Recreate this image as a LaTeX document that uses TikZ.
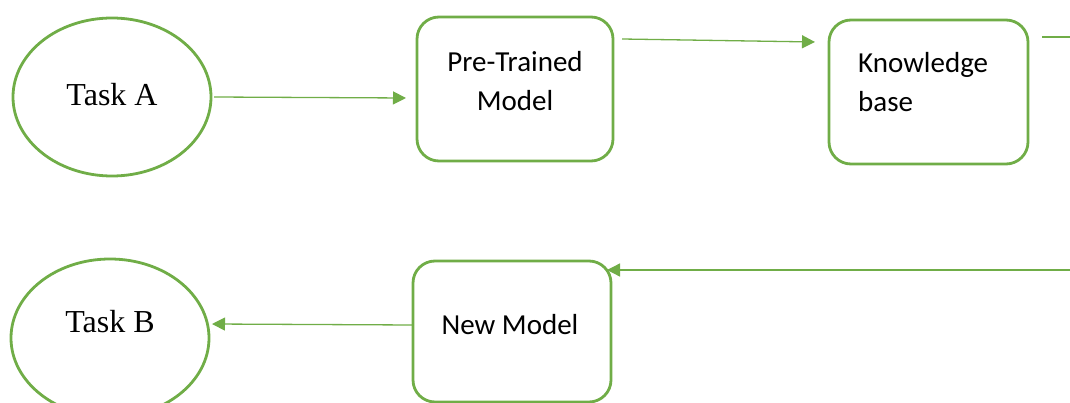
\documentclass[tikz,border=0pt]{standalone}
\usepackage{fontspec}
\setmainfont{Liberation Serif}
\newfontfamily\boxfont{Carlito}
\usetikzlibrary{shapes.geometric,arrows.meta}
\definecolor{leaf}{HTML}{70AD47}
\tikzset{
  taskshape/.style={ellipse, draw=leaf, line width=2.8pt, minimum width=198pt, minimum height=158pt, inner sep=0pt, outer sep=0pt},
  modelbox/.style={rectangle, rounded corners=22pt, draw=leaf, line width=2.8pt, inner sep=0pt, outer sep=0pt},
  tasktext/.style={font=\fontsize{32}{36}\selectfont, inner sep=0pt},
  boxtext/.style={font=\boxfont\fontsize{29}{39}\selectfont, inner sep=0pt},
  flow/.style={draw=leaf, line width=1.3pt, -{Triangle[length=13pt,width=13pt]}},
  plainline/.style={draw=leaf, line width=1.3pt}
}
\begin{document}
\begin{tikzpicture}[x=1pt,y=-1pt]
  \useasboundingbox (0,0) rectangle (1070,403);
  \clip (0,0) rectangle (1070,403);

  % upper row
  \node[taskshape] (ta) at (112,97) {};
  \node[tasktext] (tatext) at (112,95) {Task A};
  \node[modelbox, minimum width=196pt, minimum height=144pt] (pt) at (515,89) {};
  \node[boxtext, align=center] (pttext) at (515,81) {Pre-Trained\\Model};
  \node[modelbox, minimum width=199pt, minimum height=144pt] (kb) at (928.5,92) {};
  \node[boxtext, align=left, anchor=west] (kbtext) at (858,82) {Knowledge\\base};

  % lower row
  \node[taskshape] (tb) at (110,338) {};
  \node[tasktext] (tbtext) at (110,322) {Task B};
  \node[modelbox, minimum width=198pt, minimum height=141pt] (nm) at (512,331.5) {};
  \node[boxtext] (nmtext) at (510,325) {New Model};

  % connectors
  \path[flow] ([xshift=3pt]ta.east) -- ([xshift=-11pt,yshift=-9pt]pt.west);
  \path[flow] ([xshift=9pt,yshift=-22pt]pt.north east) -- ([xshift=-14pt,yshift=-22pt]kb.north west);
  \coordinate (kbout) at (1071,37);
  \path[plainline] ([xshift=14pt,yshift=-17pt]kb.north east) -- (kbout);
  \coordinate (kbin) at (1071,270);
  \path[flow] (kbin) -- ([xshift=-4pt,yshift=-9pt]nm.north east);
  \path[flow] ([yshift=6.5pt]nm.west) -- ([xshift=3pt,yshift=14pt]tb.east);
\end{tikzpicture}
\end{document}
